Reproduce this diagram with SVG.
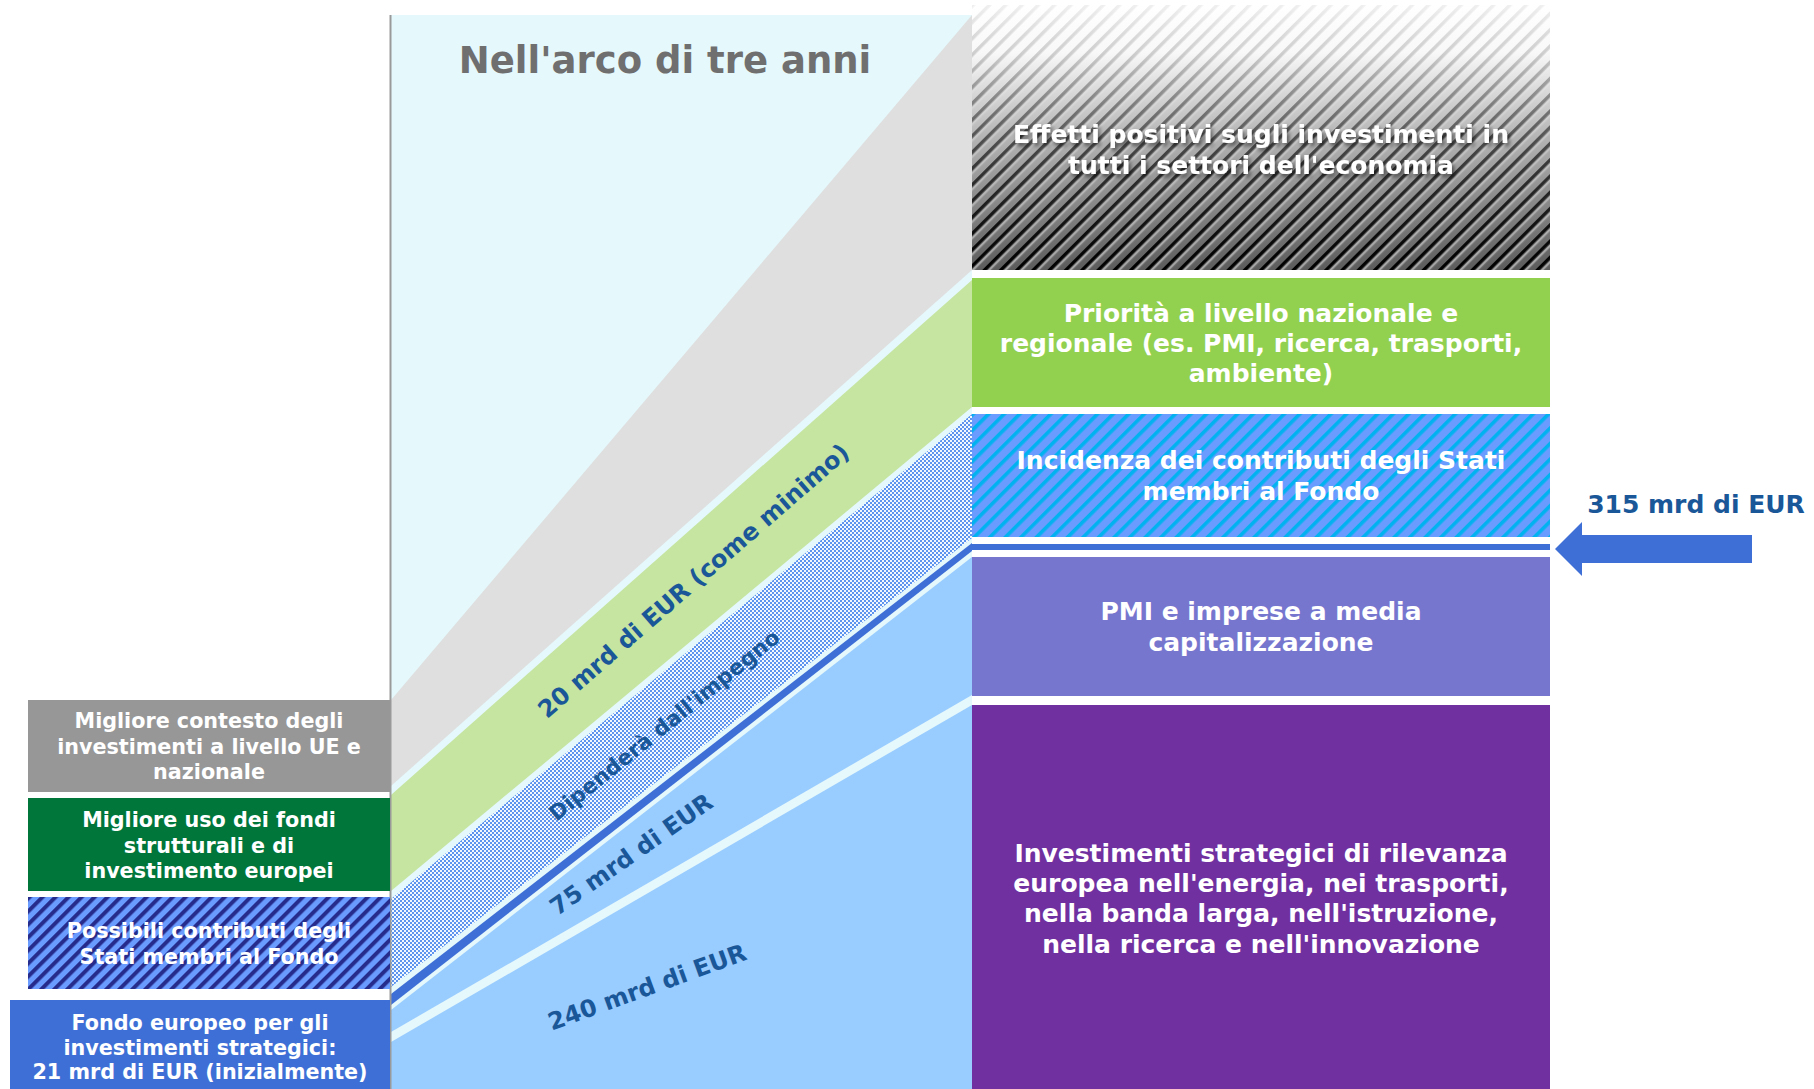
<svg xmlns="http://www.w3.org/2000/svg" width="1814" height="1089" viewBox="0 0 1814 1089">
<style>
.t{font-family:"DejaVu Sans","Verdana",sans-serif;font-weight:bold;fill:#ffffff;text-anchor:middle}
.rb{font-size:25px}
.lb{font-size:20.7px}
.lab{font-family:"DejaVu Sans","Verdana",sans-serif;font-weight:bold;fill:#1A5798;text-anchor:middle}
</style>
<defs>
<linearGradient id="gTop" x1="0" y1="0" x2="0" y2="1">
<stop offset="0" stop-color="#ffffff"/>
<stop offset="0.18" stop-color="#f8f8f8"/>
<stop offset="0.5" stop-color="#b4b4b4"/>
<stop offset="1" stop-color="#5c5c5c"/>
</linearGradient>
<linearGradient id="gMask" x1="0" y1="0" x2="0" y2="1">
<stop offset="0" stop-color="#fff" stop-opacity="0.06"/>
<stop offset="0.2" stop-color="#fff" stop-opacity="0.18"/>
<stop offset="0.55" stop-color="#fff" stop-opacity="0.6"/>
<stop offset="1" stop-color="#fff" stop-opacity="1"/>
</linearGradient>
<mask id="mTop" maskContentUnits="userSpaceOnUse">
<rect x="972" y="5" width="578" height="265" fill="url(#gMask)"/>
</mask>
<pattern id="pTop" width="11.5" height="10" patternUnits="userSpaceOnUse" patternTransform="rotate(45)">
<rect x="0" y="0" width="3.5" height="10" fill="#000"/>
<rect x="3.5" y="0" width="2.5" height="10" fill="#fff" fill-opacity="0.45"/>
</pattern>
<pattern id="pInc" width="11" height="10" patternUnits="userSpaceOnUse" patternTransform="rotate(45)">
<rect x="0" y="0" width="11" height="10" fill="#6A9BFF"/>
<rect x="0" y="0" width="3.6" height="10" fill="#00B2F0"/>
</pattern>
<pattern id="pPos" width="9.2" height="10" patternUnits="userSpaceOnUse" patternTransform="rotate(45)">
<rect x="0" y="0" width="9.2" height="10" fill="#6A9BFF"/>
<rect x="0" y="0" width="4" height="10" fill="#262C8C"/>
</pattern>
<pattern id="pChk" width="4" height="4" patternUnits="userSpaceOnUse">
<rect x="0" y="0" width="4" height="4" fill="#F2F8FF"/>
<rect x="0" y="0" width="2" height="2" fill="#5C94EE"/>
<rect x="2" y="2" width="2" height="2" fill="#5C94EE"/>
</pattern>
<filter id="sh" x="-10%" y="-40%" width="120%" height="180%">
<feDropShadow dx="2" dy="3" stdDeviation="2" flood-color="#000" flood-opacity="0.6"/>
</filter>
</defs>

<rect x="0" y="0" width="1814" height="1089" fill="#ffffff"/>

<g id="chart-bands">
<rect x="391" y="15" width="581" height="1074" fill="#E5F8FC"/>
<polygon points="972,15 972,270 391,786 391,700" fill="#DFDFDF"/>
<polygon points="972,280 972,407 391,891 391,795" fill="#C5E5A0"/>
<polygon points="972,414 972,538 391,987 391,899" fill="url(#pChk)"/>
<polygon points="972,557 972,695 391,1032 391,1010" fill="#99CCFF"/>
<polygon points="972,705 972,1089 391,1089 391,1042" fill="#99CCFF"/>
</g>

<g id="connectors">
<polygon points="972,543 972,551 391,1005 391,994" fill="#3E6FD6"/>
<rect x="972" y="544" width="578" height="6" fill="#3E6FD6"/>
<polygon points="1555,549 1582,522 1582,535 1752,535 1752,563 1582,563 1582,576" fill="#3E6FD6"/>
</g>

<line x1="390.5" y1="15" x2="390.5" y2="1089" stroke="#9A9A9A" stroke-width="2"/>

<g id="title">
<text x="665" y="73" font-family="DejaVu Sans, Verdana, sans-serif" font-weight="bold" font-size="37" fill="#6F6F6F" text-anchor="middle">Nell'arco di tre anni</text>
</g>

<g id="label-20">
<text class="lab" font-size="24" transform="translate(699,587) rotate(-41)">20 mrd di EUR (come minimo)</text>
</g>
<g id="label-dip">
<text class="lab" font-size="21.5" transform="translate(669,731) rotate(-39)">Dipenderà dall'impegno</text>
</g>
<g id="label-75">
<text class="lab" font-size="24" transform="translate(636,861) rotate(-35)">75 mrd di EUR</text>
</g>
<g id="label-240">
<text class="lab" font-size="24" transform="translate(650,995) rotate(-20)">240 mrd di EUR</text>
</g>

<g id="box-contesto">
<rect x="28" y="700" width="362" height="92" fill="#979797"/>
<text class="t lb" x="209" y="728">Migliore contesto degli</text>
<text class="t lb" x="209" y="753.5">investimenti a livello UE e</text>
<text class="t lb" x="209" y="779">nazionale</text>
</g>
<g id="box-fondi">
<rect x="28" y="798" width="362" height="93" fill="#00763A"/>
<text class="t lb" x="209" y="827">Migliore uso dei fondi</text>
<text class="t lb" x="209" y="852.5">strutturali e di</text>
<text class="t lb" x="209" y="878">investimento europei</text>
</g>
<g id="box-possibili">
<rect x="28" y="897" width="362" height="92" fill="url(#pPos)"/>
<text class="t lb" x="209" y="938">Possibili contributi degli</text>
<text class="t lb" x="209" y="964">Stati membri al Fondo</text>
</g>
<g id="box-feis">
<rect x="10" y="1000" width="380" height="89" fill="#3E6FD6"/>
<text class="t lb" x="200" y="1030">Fondo europeo per gli</text>
<text class="t lb" x="200" y="1054.5">investimenti strategici:</text>
<text class="t lb" x="200" y="1079">21 mrd di EUR (inizialmente)</text>
</g>

<g id="box-effetti">
<rect x="972" y="5" width="578" height="265" fill="url(#gTop)"/>
<rect x="972" y="5" width="578" height="265" fill="url(#pTop)" mask="url(#mTop)"/>
<g filter="url(#sh)">
<text class="t rb" x="1261" y="143" fill="#F4F4F4">Effetti positivi sugli investimenti in</text>
<text class="t rb" x="1261" y="174" fill="#F4F4F4">tutti i settori dell'economia</text>
</g>
</g>
<g id="box-priorita">
<rect x="972" y="278" width="578" height="129" fill="#92D050"/>
<text class="t rb" x="1261" y="322">Priorità a livello nazionale e</text>
<text class="t rb" x="1261" y="352">regionale (es. PMI, ricerca, trasporti,</text>
<text class="t rb" x="1261" y="382">ambiente)</text>
</g>
<g id="box-incidenza">
<rect x="972" y="414" width="578" height="123" fill="url(#pInc)"/>
<text class="t rb" x="1261" y="469">Incidenza dei contributi degli Stati</text>
<text class="t rb" x="1261" y="500">membri al Fondo</text>
</g>
<g id="box-pmi">
<rect x="972" y="557" width="578" height="139" fill="#7676CF"/>
<text class="t rb" x="1261" y="620">PMI e imprese a media</text>
<text class="t rb" x="1261" y="651">capitalizzazione</text>
</g>
<g id="box-strategici">
<rect x="972" y="705" width="578" height="384" fill="#7030A0"/>
<text class="t rb" x="1261" y="862">Investimenti strategici di rilevanza</text>
<text class="t rb" x="1261" y="892">europea nell'energia, nei trasporti,</text>
<text class="t rb" x="1261" y="922">nella banda larga, nell'istruzione,</text>
<text class="t rb" x="1261" y="953">nella ricerca e nell'innovazione</text>
</g>

<g id="label-315">
<text x="1696" y="513" font-family="DejaVu Sans, Verdana, sans-serif" font-weight="bold" font-size="25" fill="#1A5798" text-anchor="middle">315 mrd di EUR</text>
</g>
</svg>
